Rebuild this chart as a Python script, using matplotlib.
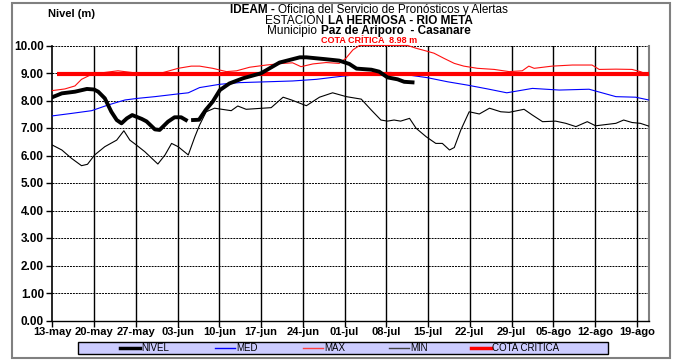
import numpy as np
import matplotlib
matplotlib.use("Agg")
from matplotlib import pyplot as plt
from matplotlib.lines import Line2D
from matplotlib.patches import Rectangle

plt.rcParams["font.family"] = ["Liberation Sans", "DejaVu Sans"]

# dias contados desde el 13-may
etiquetas_x = ["13-may", "20-may", "27-may", "03-jun", "10-jun", "17-jun", "24-jun", "01-jul",
               "08-jul", "15-jul", "22-jul", "29-jul", "05-ago", "12-ago", "19-ago"]
dias_ticks = [7 * i for i in range(len(etiquetas_x))]
dia_final = 100
cota_critica = 8.98
inicio_cota = 0.8

nivel_dias = [0, 1.6, 3.8, 5.8, 7, 7.7, 8.8, 9.9, 10.8, 11.6, 12.5, 13.4, 15, 15.8, 17.2, 18, 19.4,
              20.5, 21.6, 22.4, 23, 23.6, 24.6, 25.7, 26.9, 28.1, 29.7, 32, 35, 38.1, 41.5, 42.6,
              45.9, 48.1, 49.8, 51, 53.5, 54.8, 56.2, 57.9, 59, 60.4]
nivel = [8.12, 8.26, 8.32, 8.42, 8.40, 8.32, 8.08, 7.59, 7.29, 7.17, 7.35, 7.47, 7.33, 7.24, 6.95,
         6.93, 7.23, 7.39, 7.39, 7.29, np.nan, 7.29, 7.30, 7.65, 7.96, 8.38, 8.62, 8.81, 8.99, 9.38,
         9.57, 9.57, 9.50, 9.45, 9.33, 9.16, 9.12, 9.05, 8.84, 8.77, 8.68, 8.66]

med_dias = [0, 3.2, 6.6, 9.4, 12.2, 14.4, 17.2, 21.1, 22.8, 24.7, 28.1, 31.4, 35.9, 40.3, 44.3,
            48.1, 51.5, 54, 56.8, 59.6, 62.9, 66.3, 69.6, 73, 76.2, 80.5, 85, 90, 94.5, 97.8, 100]
med = [7.44, 7.53, 7.63, 7.84, 8.02, 8.08, 8.14, 8.24, 8.28, 8.47, 8.59, 8.65, 8.68, 8.71, 8.77,
       8.87, 8.95, 9.01, 9.02, 8.93, 8.83, 8.68, 8.56, 8.42, 8.28, 8.44, 8.38, 8.41, 8.14, 8.12, 8.02]

max_dias = [0, 2.1, 3.8, 4.9, 6.6, 8.8, 11, 13.3, 15.5, 18.3, 21.1, 23.3, 24.7, 26.9, 29.2, 30.9,
            33.1, 35.9, 38.7, 40.3, 41.7, 43.7, 45.9, 48.1, 49.2, 50.4, 51.5, 59.6, 61, 62.7, 64,
            65.7, 67.4, 69, 71.3, 74.1, 76.6, 78.8, 79.9, 80.8, 83.8, 87.2, 90.5, 91.7, 94.5,
            97.2, 98.6, 100]
maximo = [8.36, 8.42, 8.53, 8.77, 8.95, 9.02, 9.08, 9.02, 8.94, 9.00, 9.17, 9.25, 9.25, 9.17,
          9.05, 9.08, 9.21, 9.29, 9.35, 9.37, 9.23, 9.33, 9.38, 9.35, 9.53, 9.84, 10.0, 10.0,
          9.90, 9.80, 9.72, 9.53, 9.35, 9.25, 9.17, 9.13, 9.05, 9.08, 9.25, 9.17, 9.25, 9.29,
          9.29, 9.13, 9.14, 9.13, 9.05, 8.93]

min_dias = [0, 1.6, 3.2, 4.9, 5.9, 7.1, 8.8, 10.8, 12, 13, 14.1, 15.5, 17.7, 18.9, 20, 21.1, 22.8,
            23.9, 24.7, 25.8, 27.2, 30, 31.1, 32.5, 36.7, 38.7, 40.1, 42.6, 44.8, 47, 49.3, 51.8,
            53.5, 55.1, 56.2, 57.3, 58.4, 59.9, 61, 62.7, 64.3, 65.4, 66.6, 67.4, 68.5, 69.9, 71.6,
            73.3, 75.2, 76.6, 79.1, 80.5, 82.2, 84.4, 86.1, 87.8, 89.7, 91.1, 94.5, 95.8, 97.2,
            98.6, 100]
minimo = [6.38, 6.20, 5.90, 5.63, 5.68, 6.02, 6.32, 6.56, 6.90, 6.56, 6.38, 6.14, 5.69, 6.02,
          6.44, 6.32, 6.02, 6.68, 7.11, 7.59, 7.72, 7.63, 7.80, 7.68, 7.74, 8.12, 8.02, 7.81, 8.12,
          8.28, 8.14, 8.05, 7.65, 7.29, 7.25, 7.29, 7.25, 7.35, 6.99, 6.68, 6.44, 6.44, 6.20, 6.29,
          6.93, 7.59, 7.51, 7.72, 7.59, 7.57, 7.68, 7.47, 7.23, 7.25, 7.17, 7.05, 7.23, 7.08, 7.17,
          7.29, 7.20, 7.17, 7.07]

nombres = ["NIVEL", "MED", "MAX", "MIN", "COTA CRITICA"]

W, H, DPI = 681, 360, 100


def texto_mixto(fig, cx, y, partes, size, color="black", espacio=0.35):
	"""Escribe una linea centrada con trozos en negrita y normales."""
	renderer = fig.canvas.get_renderer()
	objs = [fig.text(0, y, s, fontsize=size, fontweight=w, color=color, va="center", ha="left")
	        for s, w in partes]
	anchos = [t.get_window_extent(renderer).width for t in objs]
	gap = espacio * size * DPI / 72
	total = sum(anchos) + gap * (len(objs) - 1)
	x = cx * W - total / 2
	for t, a in zip(objs, anchos):
		t.set_x(x / W)
		x += a + gap


def px(x, y):
	return x / W, 1 - y / H


def main():
	fig = plt.figure(figsize=(W / DPI, H / DPI), dpi=DPI)
	ax = fig.add_axes([52.3 / W, 1 - 320.5 / H, 596.4 / W, 275 / H])

	ax.set_xlim(0, dia_final)
	ax.set_ylim(0, 10)

	# rejilla: horizontales punteadas, verticales semanales continuas
	for v in range(1, 11):
		ax.axhline(v, color="black", lw=0.7, ls=(0, (2, 1)), zorder=1)
	for d in dias_ticks[1:]:
		ax.axvline(d, color="black", lw=1.0, zorder=1)

	ax.plot(min_dias, minimo, color="black", lw=0.8, zorder=3)
	ax.plot(max_dias, maximo, color="#ff1010", lw=0.8, zorder=3, clip_on=False)
	ax.plot(med_dias, med, color="#0000ff", lw=0.8, zorder=3)
	ax.plot([inicio_cota, dia_final], [cota_critica, cota_critica], color="#ff0000", lw=3.0,
	        zorder=4, solid_capstyle="butt")
	ax.plot(nivel_dias, nivel, color="black", lw=2.8, zorder=5)

	ax.set_xticks(dias_ticks)
	ax.set_xticklabels(etiquetas_x, fontsize=8, fontweight="bold")
	ax.set_yticks(range(0, 11))
	ax.set_yticklabels(["%.2f" % v for v in range(0, 11)], fontsize=8.5, fontweight="bold")
	ax.tick_params(axis="x", length=4, width=1, pad=1)
	ax.tick_params(axis="y", length=4, width=1, pad=2)

	ax.spines["top"].set_visible(False)
	ax.spines["left"].set_linewidth(1.2)
	ax.spines["bottom"].set_linewidth(1.0)
	ax.spines["right"].set_color("#808080")
	ax.spines["right"].set_linewidth(1.5)

	# titulos
	cx = 369 / W
	texto_mixto(fig, cx, 1 - 10 / H, [("IDEAM -", "bold"),
	            ("Oficina del Servicio de Pronósticos y Alertas", "normal")], 8.5, espacio=0.3)
	texto_mixto(fig, cx, 1 - 20.5 / H, [("ESTACIÓN", "normal"), ("LA HERMOSA - RIO META", "bold")], 8.5)
	texto_mixto(fig, cx, 1 - 31 / H, [("Municipio", "normal"), ("Paz de Ariporo  - Casanare", "bold")], 8.5)
	texto_mixto(fig, cx, 1 - 40.5 / H, [("COTA CRÍTICA  8.98 m", "bold")], 6.5, color="#ff0000")
	fig.text(48 / W, 1 - 14 / H, "Nivel (m)", fontsize=8, fontweight="bold", va="center", ha="left")

	# leyenda: caja lila con cinco entradas
	fig.patches.append(Rectangle(px(78, 354), 530 / W, 12 / H, facecolor="#ccccff",
	                             edgecolor="black", lw=1.0, transform=fig.transFigure))
	estilos = [("black", 2.5), ("#0000ff", 1.0), ("#ff4040", 1.0), ("#404040", 1.0), ("#ff0000", 2.5)]
	inicios = [120, 215, 303, 389, 471]
	for nombre, (color, lw), x0 in zip(nombres, estilos, inicios):
		xa, ya = px(x0, 348)
		xb, _ = px(x0 + 20, 348)
		fig.lines.append(Line2D([xa, xb], [ya, ya], color=color, lw=lw, transform=fig.transFigure))
		fig.text(px(x0 + 21, 348)[0], ya, nombre, fontsize=7, va="center", ha="left")

	# marco exterior
	fig.patches.append(Rectangle(px(12, 358), 658 / W, 355 / H, fill=False,
	                             edgecolor="#808080", lw=1.5, transform=fig.transFigure))

	fig.savefig("out.png", dpi=DPI)
	plt.close(fig)


if __name__ == "__main__":
	main()
